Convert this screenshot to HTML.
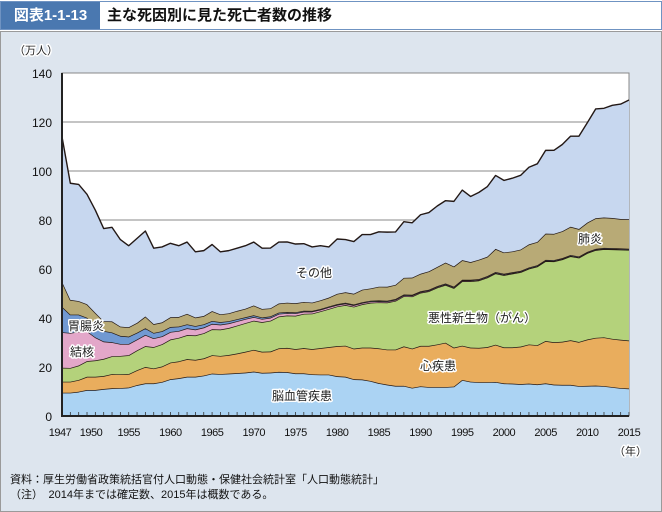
<!DOCTYPE html>
<html><head><meta charset="utf-8">
<style>
body{margin:0;width:662px;height:512px;background:#fff;font-family:"Liberation Sans","Noto Sans CJK JP",sans-serif;overflow:hidden;position:relative}
#tbar{position:absolute;left:0;top:1px;width:660px;height:27px;border:1px solid #6f93c2;background:#fff}
#tlabel{position:absolute;left:0;top:0;width:99px;height:27px;background:#4a78b0;color:#fff;font-size:15px;font-weight:bold;line-height:27px;text-align:center}
#ttext{position:absolute;left:106px;top:0;line-height:27px;font-size:15px;font-weight:bold;color:#111}
#panel{position:absolute;left:0;top:31px;width:660px;height:479px;background:#dde5ee;border:1px solid #9a9a9a}
.note{position:absolute;left:10px;font-size:11px;color:#111}
</style></head><body>
<div id="tbar">
 <div id="tlabel">図表1-1-13</div>
 <div id="ttext">主な死因別に見た死亡者数の推移</div>
</div>
<div id="panel"></div>
<svg id="chart" width="662" height="512" style="position:absolute;left:0;top:0"></svg>
<div class="note" style="top:471px">資料：厚生労働省政策統括官付人口動態・保健社会統計室「人口動態統計」</div>
<div class="note" style="top:486px">（注）　2014年までは確定数、2015年は概数である。</div>
<script>
const years=[];for(let y=1947;y<=2015;y++)years.push(y);
const stroke=[9.5,9.5,9.9,10.6,10.6,11.0,11.3,11.4,11.6,12.6,13.3,13.3,13.9,15.0,15.4,16.0,16.0,16.5,17.3,17.1,17.3,17.5,17.7,18.1,17.6,17.7,18.0,17.9,17.4,17.4,17.0,16.9,16.9,16.2,16.0,15.0,14.9,14.3,13.4,12.8,12.3,12.3,11.5,12.1,11.8,11.8,11.8,12.0,14.7,14.0,13.8,13.8,13.9,13.3,13.2,13.0,13.2,12.9,13.3,12.8,12.7,12.7,12.2,12.3,12.4,12.2,11.8,11.4,11.2];
const heart=[4.5,4.5,4.8,5.4,5.4,5.3,5.8,5.6,5.5,6.1,6.7,6.1,6.3,6.8,6.9,7.2,6.9,7.0,7.5,7.4,7.6,8.0,8.5,8.9,8.6,8.6,9.6,9.9,9.9,10.3,10.3,10.8,11.2,12.3,12.7,12.5,13.0,13.6,14.2,14.3,14.8,16.1,16.0,16.5,16.8,17.4,18.1,15.9,14.0,13.9,14.0,14.3,15.2,14.7,14.8,15.3,16.0,16.0,17.3,17.3,17.6,18.2,18.0,18.9,19.5,19.9,19.7,19.7,19.6];
const cancer=[5.7,5.6,5.9,6.4,6.7,7.0,7.3,7.5,7.7,8.1,8.5,8.7,9.1,9.4,9.6,9.8,10.0,10.3,10.6,10.8,11.0,11.4,11.7,11.9,12.1,12.6,13.0,13.2,13.6,14.0,14.5,15.0,15.6,16.2,16.6,17.1,17.7,18.3,18.8,19.2,19.9,20.5,21.3,21.7,22.3,23.2,23.6,24.3,26.3,27.1,27.5,28.4,29.1,29.5,30.1,30.4,30.9,32.1,32.6,33.0,33.6,34.3,34.4,35.3,35.8,36.0,36.5,36.8,37.0];
const tb=[14.5,14.3,13.8,12.2,9.4,7.1,5.7,4.9,4.6,4.4,4.6,3.6,3.2,3.1,2.8,2.8,2.4,2.3,2.2,2.0,1.9,1.8,1.7,1.5,1.3,1.2,1.1,1.0,1.0,0.9,0.8,0.7,0.7,0.65,0.6,0.6,0.55,0.55,0.47,0.45,0.43,0.4,0.37,0.34,0.33,0.32,0.3,0.3,0.3,0.3,0.27,0.28,0.29,0.26,0.25,0.23,0.23,0.23,0.22,0.23,0.22,0.23,0.22,0.21,0.21,0.21,0.21,0.21,0.19];
const gastro=[10.4,7.5,7.0,5.5,5.0,4.3,4.0,3.3,3.0,2.8,2.7,2.2,2.1,2.0,1.8,1.6,1.4,1.3,1.2,1.0,0.9,0.8,0.7,0.7,0.6,0.55,0.5,0.45,0.4,0.35,0.3,0.3,0.3,0.3,0.3,0.3,0.3,0.3,0.3,0.3,0.3,0.3,0.3,0.3,0.3,0.3,0.3,0.3,0.3,0.3,0.3,0.3,0.3,0.3,0.3,0.3,0.3,0.3,0.3,0.3,0.3,0.3,0.3,0.3,0.3,0.3,0.3,0.3,0.3];
const pneumonia=[10.2,6.0,5.5,5.5,5.0,4.0,4.5,3.8,3.8,4.0,4.8,3.6,3.6,4.0,3.9,4.3,3.5,3.4,4.0,3.2,3.2,3.4,3.5,4.0,3.5,3.3,3.7,3.8,3.7,3.6,3.4,3.5,3.6,4.2,4.3,4.4,5.1,5.0,5.6,5.7,5.8,6.8,7.0,7.1,7.5,7.8,8.5,8.2,8.0,7.2,7.9,7.9,9.4,8.7,8.5,8.7,9.4,9.5,10.7,10.7,11.0,11.5,11.2,11.9,12.5,12.4,12.3,12.0,12.0];
const other=[59.2,47.6,47.6,44.9,41.9,37.8,38.4,35.5,33.3,34.5,34.9,31.0,30.8,30.2,29.1,29.3,26.8,26.7,27.2,25.5,25.6,25.6,25.7,25.9,24.8,24.6,25.1,24.8,24.2,23.8,22.7,22.3,20.7,22.4,21.5,21.3,22.5,22.0,22.4,22.3,21.6,22.9,22.4,24.1,24.0,24.9,25.3,26.6,28.6,26.8,27.5,28.6,30.0,29.4,29.9,30.3,31.5,31.9,34.0,34.1,35.4,37.0,37.9,40.8,44.6,44.6,46.0,46.9,48.7];
const yTicks=[0,20,40,60,80,100,120,140];
const xTickLabels=[1947,1950,1955,1960,1965,1970,1975,1980,1985,1990,1995,2000,2005,2010,2015];
const series=[
 {name:'stroke',vals:stroke,color:'#abd3f3'},
 {name:'heart-disease',vals:heart,color:'#e9ad5d'},
 {name:'cancer',vals:cancer,color:'#b4d27b'},
 {name:'tuberculosis',vals:tb,color:'#e3a7c9'},
 {name:'gastroenteritis',vals:gastro,color:'#7199d2'},
 {name:'pneumonia',vals:pneumonia,color:'#b8aa76'},
 {name:'other',vals:other,color:'#c7d7ef'}];
const X0=62,X1=629,Y0=416,Y1=73;
const xs=y=>X0+(y-1947)/(2015-1947)*(X1-X0);
const ys=v=>Y0-v/140*(Y0-Y1);
const svg=document.getElementById('chart');const NS='http://www.w3.org/2000/svg';
function mk(t,a,p){const e=document.createElementNS(NS,t);for(const k in a)e.setAttribute(k,a[k]);(p||svg).appendChild(e);return e;}
const bg=mk('rect',{x:X0,y:Y1,width:X1-X0,height:Y0-Y1,fill:'#fff',stroke:'#888','stroke-width':1});


yTicks.forEach(v=>{
 if(v>0&&v<140){const g=mk('line',{x1:X0,x2:X1,y1:ys(v),y2:ys(v),stroke:'#888','stroke-width':1});
 
 }
 const t=mk('text',{x:52,y:ys(v)+5,'text-anchor':'end','font-size':12,fill:'#111'});t.textContent=v;
 
 
});
let base=years.map(()=>0);
series.forEach(s=>{
 const top=base.map((b,i)=>b+s.vals[i]);
 let d='M'+years.map((y,i)=>xs(y).toFixed(2)+','+ys(top[i]).toFixed(2)).join('L');
 for(let i=years.length-1;i>=0;i--)d+='L'+xs(years[i]).toFixed(2)+','+ys(base[i]).toFixed(2);
 const p=mk('path',{d:d+'Z',fill:s.color,stroke:'none'});
 
 
 const l=mk('path',{d:'M'+years.map((y,i)=>xs(y).toFixed(2)+','+ys(top[i]).toFixed(2)).join('L'),fill:'none',stroke:'#231815','stroke-width':1.4,'stroke-linejoin':'round'});
 
 
 base=top;
});
years.forEach(y=>{const t=mk('line',{x1:xs(y),x2:xs(y),y1:Y0,y2:Y0-4,stroke:'#333','stroke-width':0.8});
 
 });
const ax=mk('path',{d:`M${X0},${Y1}L${X0},${Y0}L${X1},${Y0}`,fill:'none',stroke:'#222','stroke-width':2});


xTickLabels.forEach(y=>{const t=mk('text',{x:xs(y)+(y===1947?-2:y===1950?4:0),y:436,'text-anchor':'middle','font-size':11,fill:'#111','letter-spacing':'-0.5'});t.textContent=y;
 
 });
function lab(txt,x,y,name,size){const t=mk('text',{x:x,y:y,'font-size':size||12,fill:'#222',stroke:'#fff','stroke-width':3,'paint-order':'stroke','stroke-linejoin':'round'});t.textContent=txt;
 
 }
lab('（万人）',14,54,'y-axis-unit',11);
lab('（年）',614,455,'x-axis-unit',11);
lab('胃腸炎',68,330,'label-gastroenteritis');
lab('結核',70,356,'label-tuberculosis');
lab('その他',296,277,'label-other');
lab('悪性新生物（がん）',428,322,'label-cancer');
lab('心疾患',420,370,'label-heart-disease');
lab('脳血管疾患',272,400,'label-stroke');
lab('肺炎',578,243,'label-pneumonia');
</script>
</body></html>
